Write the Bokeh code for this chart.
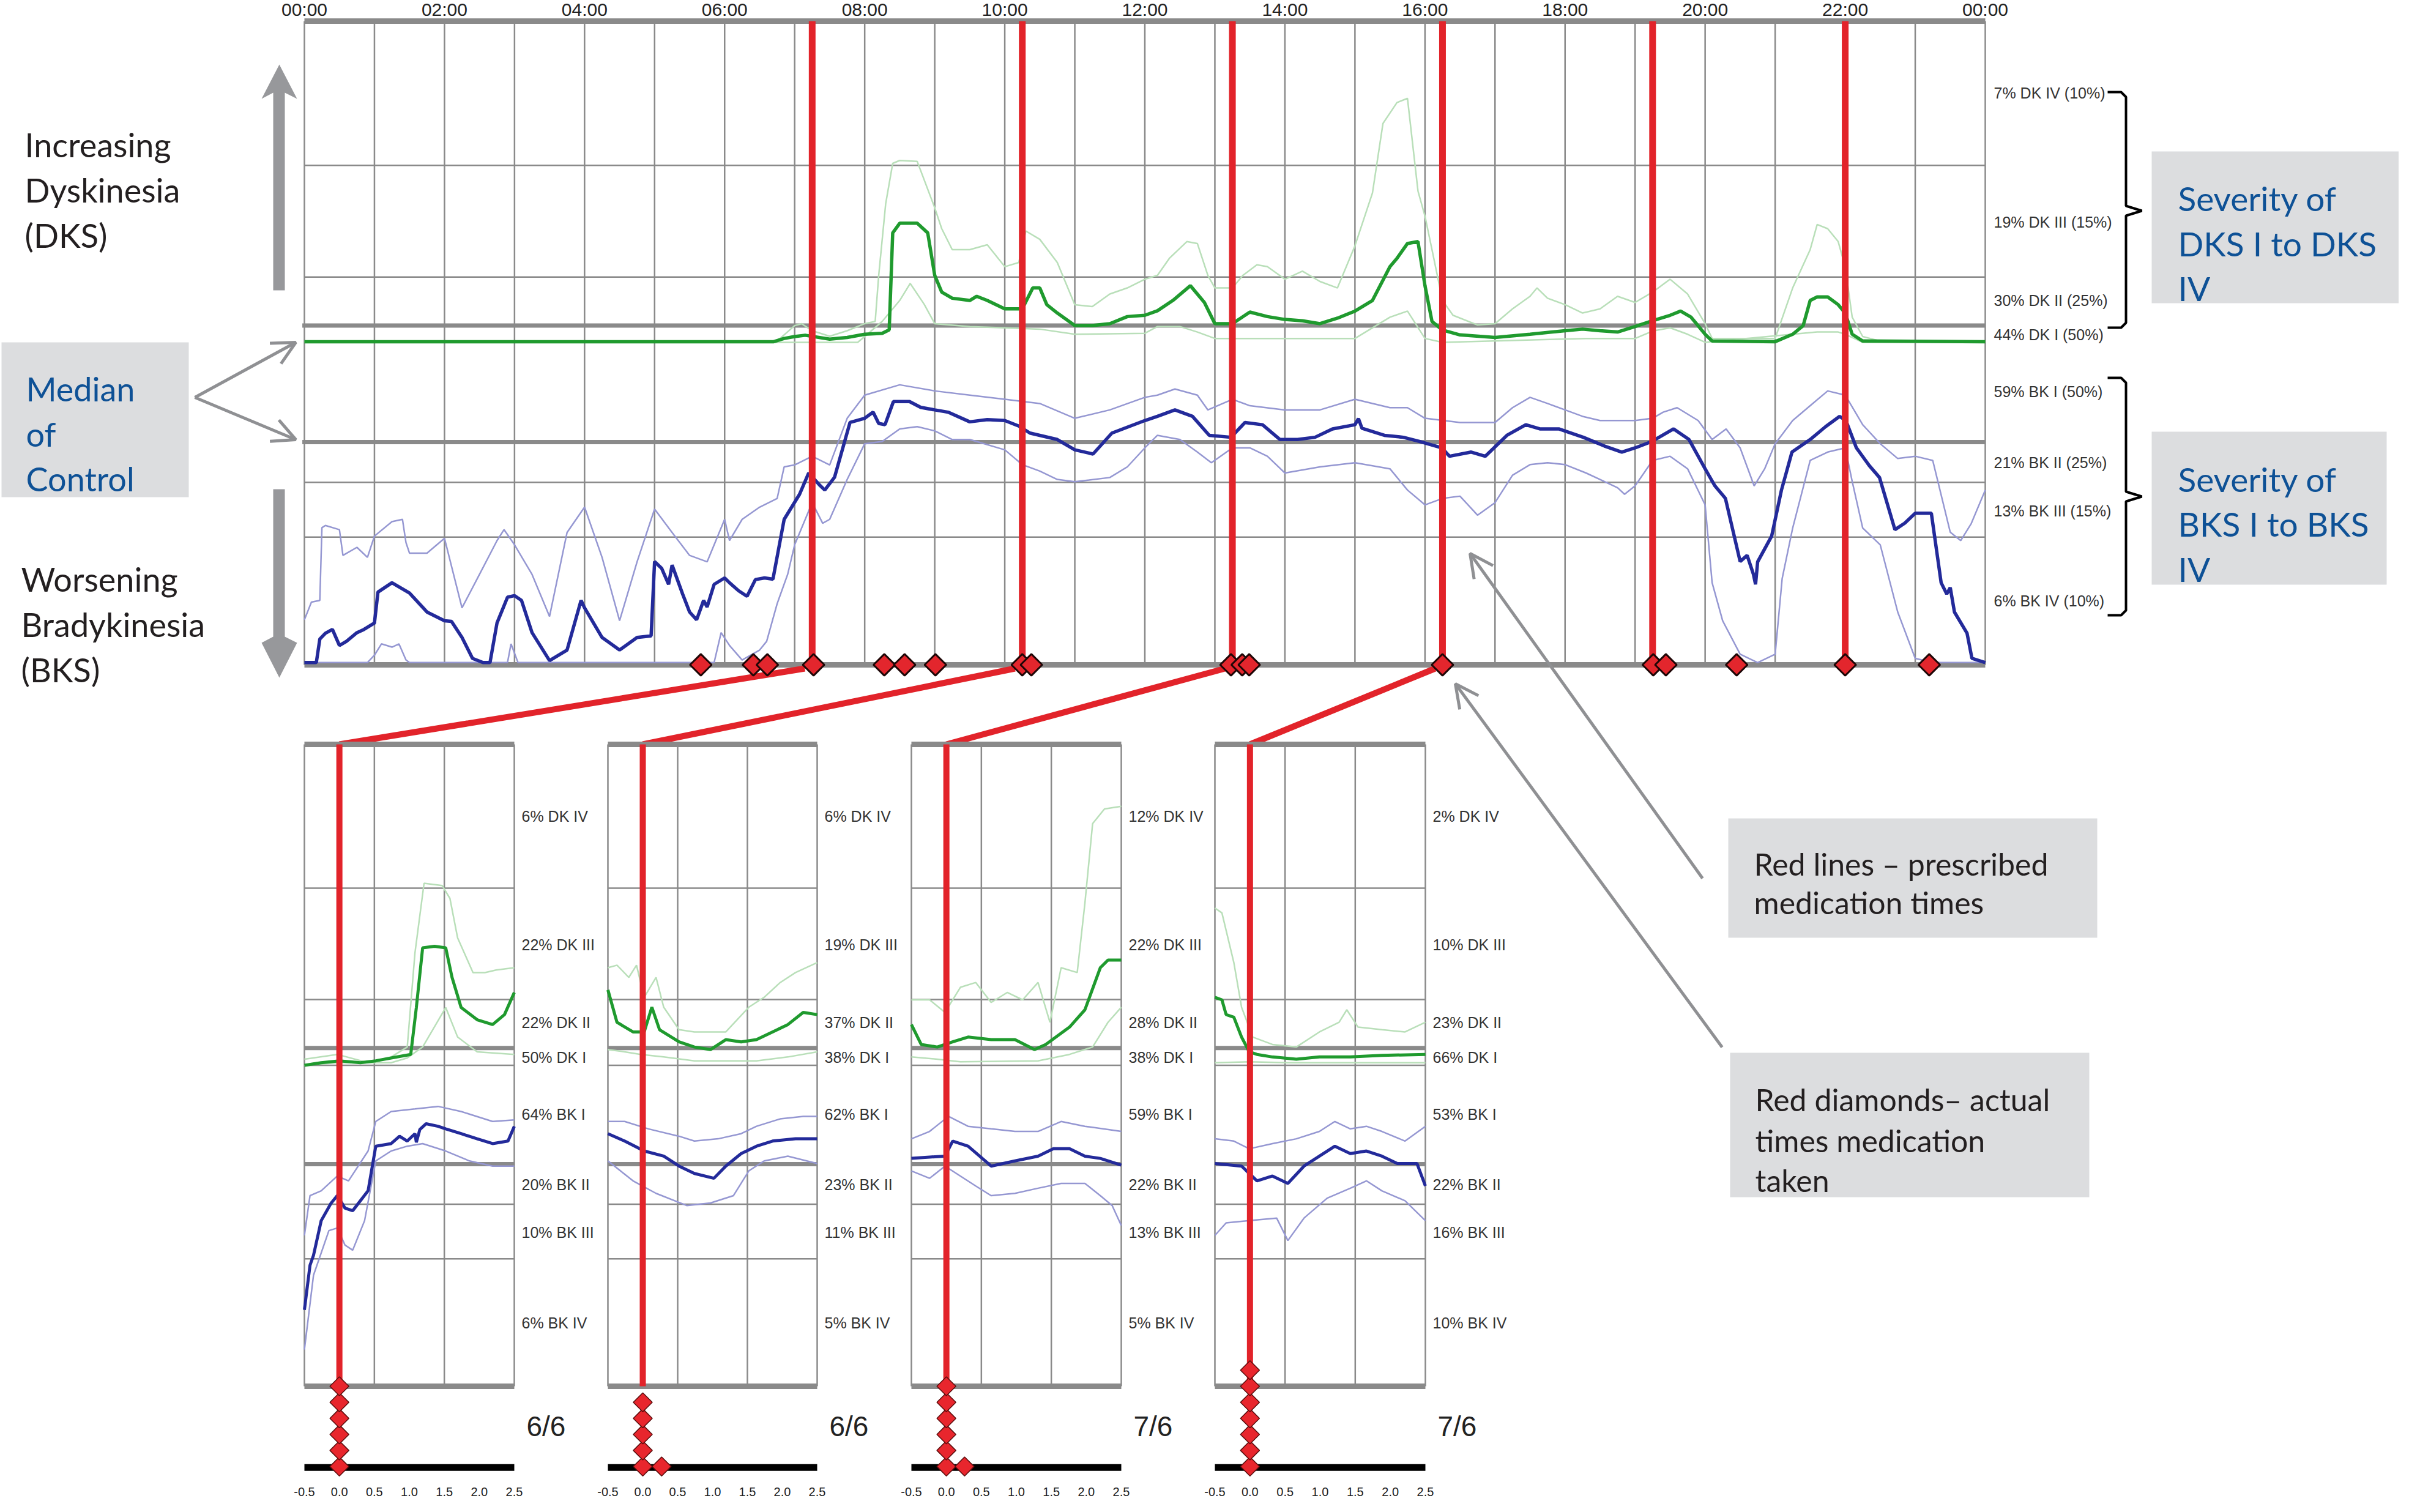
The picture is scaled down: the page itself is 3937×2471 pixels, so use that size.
from bokeh.plotting import figure
from bokeh.models import Range1d, Arrow, OpenHead
from bokeh.core.properties import value
from bokeh.embed import file_html
from bokeh.resources import INLINE

# ---------------------------------------------------------------- data
hour_ticks = [0, 2, 4, 6, 8, 10, 12, 14, 16, 18, 20, 22, 24]
hour_labels = ["00:00", "02:00", "04:00", "06:00", "08:00", "10:00", "12:00",
               "14:00", "16:00", "18:00", "20:00", "22:00", "00:00"]
grid_hours = list(range(0, 25))

# severity scale: +100 top of DKS zone, 0 = no dyskinesia, -100 = worst BKS
levels_thin = [55.2, 20.5, -43.3, -60.3]
levels_thick = [5.4, -30.8]          # medians of control (DK, BK)
label_levels = [77.6, 37.6, 13.3, 2.5, -15.2, -37.1, -52.1, -80.2]
main_labels = ["7% DK IV (10%)", "19% DK III (15%)", "30% DK II (25%)", "44% DK I (50%)",
               "59% BK I (50%)", "21% BK II (25%)", "13% BK III (15%)", "6% BK IV (10%)"]

prescribed_hours = [7.25, 10.25, 13.25, 16.25, 19.25, 22.0]
taken_hours = [5.66, 6.41, 6.61, 7.27, 8.28, 8.57, 9.01, 10.25, 10.38, 13.23, 13.39,
               13.49, 16.25, 19.26, 19.44, 20.45, 22.0, 23.2]

bk_median = [(0.0, -99.3), (0.17, -99.3), (0.22, -92), (0.3, -90.2), (0.4, -89), (0.5, -94),
             (0.6, -92.7), (0.75, -90), (0.85, -89), (1.0, -87), (1.05, -77.4), (1.25, -74.5),
             (1.5, -77.7), (1.75, -83.6), (2.0, -86.3), (2.1, -86.5), (2.25, -91.5), (2.4, -98),
             (2.55, -99.3), (2.65, -99.3), (2.75, -87), (2.9, -79), (3.0, -78.5), (3.1, -80),
             (3.25, -90), (3.5, -98.7), (3.75, -95.4), (3.95, -80), (4.0, -82.3), (4.25, -91.5),
             (4.5, -95.4), (4.75, -91.5), (4.95, -91), (5.0, -67.9), (5.1, -70), (5.2, -75),
             (5.25, -69), (5.4, -78), (5.5, -83.6), (5.6, -86), (5.7, -80), (5.75, -82),
             (5.85, -75), (6.0, -73), (6.07, -74.5), (6.2, -77), (6.32, -78.7), (6.44, -73.5),
             (6.57, -73), (6.69, -73.4), (6.85, -54.8), (7.07, -47), (7.2, -40.4), (7.35, -44),
             (7.43, -45.7), (7.57, -41.7), (7.79, -24.7), (8.0, -23.4), (8.12, -21.5),
             (8.2, -25), (8.29, -25.4), (8.41, -18.2), (8.64, -18.2), (8.8, -20), (9.0, -20.8),
             (9.19, -21.5), (9.5, -24.5), (9.75, -23.8), (10.0, -24.1), (10.2, -25.8),
             (10.36, -28), (10.75, -30), (11.0, -33.2), (11.26, -34.5), (11.53, -28),
             (12.0, -24.1), (12.18, -22.8), (12.43, -20.8), (12.68, -22.8), (12.92, -28.7),
             (13.23, -29.3), (13.43, -24.7), (13.68, -25.4), (13.93, -30), (14.18, -30),
             (14.43, -29.3), (14.68, -26.7), (15.0, -25.4), (15.05, -23.5), (15.1, -26.5),
             (15.42, -28.7), (15.69, -29.3), (15.92, -30.6), (16.24, -32.6), (16.35, -35.2),
             (16.66, -33.9), (16.86, -35.2), (17.17, -28.7), (17.44, -25.4), (17.64, -26.7),
             (17.91, -26.7), (18.26, -29.3), (18.56, -32), (18.81, -33.9), (19.0, -32.6),
             (19.24, -30.6), (19.55, -26.7), (19.77, -30), (20.0, -39.1), (20.14, -44.4),
             (20.29, -48.3), (20.5, -67.9), (20.6, -66), (20.69, -71.9), (20.72, -75),
             (20.75, -68), (20.95, -60), (21.09, -45.7), (21.24, -33.9), (21.5, -30),
             (21.72, -26), (21.92, -22.8), (22.01, -24.1), (22.16, -32.6), (22.34, -38),
             (22.49, -41.8), (22.71, -58), (22.85, -56), (23.0, -52.9), (23.23, -52.9),
             (23.37, -74.5), (23.45, -78), (23.5, -76), (23.56, -83.6), (23.74, -90.2),
             (23.81, -98), (24.0, -99.3)]
bk_upper = [(0.0, -86), (0.1, -80.5), (0.22, -80), (0.25, -57.4), (0.3, -56.7), (0.5, -58),
            (0.55, -66), (0.75, -63.5), (0.9, -66.6), (1.0, -60), (1.25, -55.5), (1.4, -54.8),
            (1.45, -62), (1.5, -65.3), (1.75, -65.3), (2.0, -60.7), (2.25, -82.3), (2.5, -71.9),
            (2.75, -61.4), (2.85, -58), (3.0, -62.7), (3.25, -71.9), (3.5, -85), (3.75, -58.9),
            (4.0, -51), (4.25, -66.6), (4.5, -86.3), (4.75, -68), (5.0, -51.6), (5.25, -58.9),
            (5.5, -66), (5.75, -68), (6.0, -54.8), (6.07, -61.4), (6.25, -54.8), (6.5, -51),
            (6.75, -48.3), (6.85, -38.5), (7.0, -37.9), (7.25, -35.2), (7.5, -37.9),
            (7.75, -23.4), (8.0, -16.2), (8.5, -13), (9.0, -14.9), (9.5, -16.2), (10.0, -17.5),
            (10.5, -18.8), (11.0, -23.4), (11.5, -20.8), (12.0, -16.9), (12.18, -16.2),
            (12.43, -14.3), (12.75, -16.2), (12.9, -20.8), (13.25, -17.5), (13.5, -19.5),
            (14.0, -20.8), (14.5, -20.8), (15.0, -17.5), (15.5, -20.1), (15.75, -20.1),
            (16.0, -23.4), (16.5, -24.7), (17.0, -24.7), (17.25, -20.1), (17.5, -16.9),
            (17.75, -18.8), (18.0, -20.8), (18.25, -22.8), (18.5, -24.1), (19.0, -24.1),
            (19.25, -23.4), (19.4, -21.5), (19.6, -20.1), (19.9, -24.1), (20.1, -30),
            (20.3, -26.7), (20.5, -32.6), (20.7, -44.4), (20.85, -39.1), (21.0, -31.3),
            (21.25, -24.1), (21.5, -19.5), (21.75, -14.9), (22.0, -16.2), (22.25, -25.4),
            (22.5, -31.3), (22.75, -35.9), (23.0, -35.2), (23.25, -36.5), (23.5, -58.8),
            (23.65, -61.4), (23.8, -56.1), (24.0, -45.7)]
bk_lower = [(0.0, -99.3), (0.9, -99.3), (1.0, -97), (1.1, -93.5), (1.25, -94.5), (1.35, -93.5),
            (1.45, -98.5), (1.5, -99.3), (2.9, -99.3), (2.95, -93.5), (3.05, -99.3),
            (5.85, -99.3), (5.95, -90), (6.07, -94), (6.25, -98.5), (6.5, -95.4), (6.6, -92.7),
            (6.75, -81), (6.9, -71.9), (7.0, -62.7), (7.25, -49.6), (7.4, -56), (7.5, -54.8),
            (7.75, -42.4), (8.0, -31.3), (8.25, -30.6), (8.5, -26.7), (8.75, -26), (9.0, -27.3),
            (9.25, -30), (9.5, -30), (10.0, -33.2), (10.25, -37.8), (10.5, -39.8),
            (10.75, -42.4), (11.0, -43.1), (11.5, -41.8), (11.75, -38.5), (12.0, -32.6),
            (12.18, -28.7), (12.5, -30), (12.75, -33.9), (12.95, -37.2), (13.25, -32.6),
            (13.5, -32.6), (13.75, -35.2), (14.0, -40.4), (14.5, -38.5), (15.0, -37.2),
            (15.5, -39.1), (15.75, -45.7), (16.0, -50.3), (16.25, -48.3), (16.5, -47.6),
            (16.75, -53.5), (17.0, -49.6), (17.25, -41.1), (17.5, -37.8), (17.75, -37.2),
            (18.0, -37.8), (18.3, -40.4), (18.5, -42.4), (18.75, -45), (18.85, -47),
            (19.0, -44.4), (19.25, -36.5), (19.5, -35.2), (19.75, -39.1), (20.0, -50.3),
            (20.1, -74.5), (20.25, -86.3), (20.5, -96.7), (20.75, -99.3), (21.0, -96.7),
            (21.1, -73.2), (21.25, -57.5), (21.5, -36.5), (21.75, -33.9), (22.0, -32.6),
            (22.1, -43), (22.25, -57.5), (22.5, -62.7), (22.75, -83.6), (23.0, -98),
            (23.25, -99.3), (24.0, -99.3)]
dk_median = [(0.0, 0.4), (6.7, 0.4), (6.85, 1.4), (7.0, 2.0), (7.15, 2.4), (7.5, 1.2),
             (7.75, 1.7), (8.0, 2.7), (8.25, 3.0), (8.35, 4.1), (8.4, 34.2), (8.5, 37.2),
             (8.75, 37.2), (8.9, 34.2), (9.0, 21), (9.1, 15.8), (9.25, 13.9), (9.5, 13.2),
             (9.6, 14.5), (9.75, 13.2), (10.0, 10.6), (10.25, 10.6), (10.4, 17.1), (10.5, 17.1),
             (10.6, 11.9), (10.75, 9.3), (11.0, 5.4), (11.25, 5.4), (11.5, 6.0), (11.75, 8.2),
             (12.0, 8.6), (12.18, 10), (12.4, 13.2), (12.65, 17.8), (12.85, 12.6), (13.0, 6),
             (13.25, 6), (13.5, 9.6), (13.75, 8.2), (14.0, 7.3), (14.25, 6.9), (14.5, 6),
             (14.75, 7.7), (15.0, 9.9), (15.25, 13.2), (15.5, 23.7), (15.6, 26.3), (15.75, 30.9),
             (15.9, 31.5), (16.0, 17.8), (16.1, 6.7), (16.25, 4), (16.5, 2.5), (17.0, 1.7),
             (17.5, 2.7), (18.0, 3.8), (18.25, 4.3), (18.5, 3.8), (18.75, 3.4), (19.0, 5.1),
             (19.25, 6.9), (19.5, 8.6), (19.65, 9.9), (19.8, 8), (20.0, 2.7), (20.1, 0.6),
             (21.0, 0.4), (21.25, 2.7), (21.4, 5.4), (21.5, 13.2), (21.6, 14.3), (21.75, 14.3),
             (21.9, 11.9), (22.0, 9.3), (22.1, 2.7), (22.25, 0.6), (24.0, 0.4)]
dk_upper = [(0.0, 0.6), (6.75, 0.6), (7.0, 5.4), (7.1, 6), (7.25, 3.8), (7.5, 2.1), (7.75, 3.8),
            (8.0, 6), (8.15, 6.7), (8.2, 21), (8.3, 43.3), (8.4, 55.8), (8.5, 56.7),
            (8.75, 56.4), (9.0, 42), (9.1, 35.5), (9.25, 29), (9.5, 29), (9.75, 30.5),
            (10.0, 23.7), (10.2, 25), (10.3, 34.8), (10.5, 32.2), (10.75, 25), (11.0, 11.9),
            (11.25, 11.3), (11.5, 15.2), (11.75, 17.1), (12.0, 19.8), (12.18, 21),
            (12.35, 26.3), (12.6, 31.5), (12.75, 30.9), (12.9, 21), (13.0, 17.1), (13.25, 17.1),
            (13.4, 21), (13.6, 24.3), (13.75, 23.7), (14.0, 19.8), (14.25, 22.3), (14.5, 19.1),
            (14.75, 17.1), (15.0, 30.2), (15.25, 46.6), (15.4, 68.2), (15.6, 74.7),
            (15.75, 76), (15.9, 47.2), (16.0, 39.4), (16.1, 29), (16.25, 13.2), (16.4, 8.6),
            (16.75, 5.6), (17.0, 6), (17.25, 10.6), (17.5, 14.5), (17.6, 17.1), (17.75, 13.9),
            (18.0, 11.9), (18.25, 9.3), (18.5, 10.6), (18.75, 14.5), (19.0, 12.6),
            (19.25, 15.8), (19.5, 19.8), (19.75, 15.2), (20.0, 6), (20.1, 1.4), (21.0, 1.4),
            (21.25, 17.1), (21.5, 29), (21.6, 36.8), (21.75, 35.5), (21.9, 31.5), (22.0, 23.7),
            (22.1, 8), (22.25, 2), (22.5, 0.6), (24.0, 0.6)]
dk_lower = [(0.0, 0.2), (7.9, 0.2), (8.0, 2), (8.25, 6.7), (8.5, 13.2), (8.65, 18.5),
            (8.85, 12), (9.0, 6), (9.5, 5.1), (10.0, 4.7), (10.5, 4.3), (11.0, 2.7), (12.0, 3),
            (12.18, 5.1), (12.5, 5.1), (12.75, 3.4), (13.0, 1.4), (15.0, 1.4), (15.5, 8),
            (15.75, 9.9), (16.0, 1.4), (16.25, 0.2), (18.3, 1.4), (19.0, 1.4), (19.25, 3.7),
            (19.5, 4.7), (19.75, 2.7), (20.0, 0.2), (21.6, 3.4), (21.9, 3.4), (22.0, 2.7),
            (22.25, 0.2), (24.0, 0.2)]

# ---- zoomed panels: hours relative to the prescribed dose (-0.5 .. 2.5)
panel_dates = ["6/6", "6/6", "7/6", "7/6"]
panel_dose_hours = [7.25, 10.25, 13.25, 16.25]
panel_ticks = [-0.5, 0.0, 0.5, 1.0, 1.5, 2.0, 2.5]
panel_tick_labels = ["-0.5", "0.0", "0.5", "1.0", "1.5", "2.0", "2.5"]
panel_labels = [
    ["6% DK IV", "22% DK III", "22% DK II", "50% DK I", "64% BK I", "20% BK II", "10% BK III", "6% BK IV"],
    ["6% DK IV", "19% DK III", "37% DK II", "38% DK I", "62% BK I", "23% BK II", "11% BK III", "5% BK IV"],
    ["12% DK IV", "22% DK III", "28% DK II", "38% DK I", "59% BK I", "22% BK II", "13% BK III", "5% BK IV"],
    ["2% DK IV", "10% DK III", "23% DK II", "66% DK I", "53% BK I", "22% BK II", "16% BK III", "10% BK IV"],
]
# actual doses: (relative hour, day row)
p1_doses = [(0, 0), (0, 1), (0, 2), (0, 3), (0, 4), (0, 5)]
p2_doses = [(0, 0), (0, 1), (0, 2), (0, 3), (0, 4), (0.27, 0)]
p3_doses = [(0, 0), (0, 1), (0, 2), (0, 3), (0, 4), (0, 5), (0.26, 0)]
p4_doses = [(0, 0), (0, 1), (0, 2), (0, 3), (0, 4), (0, 5), (0, 6)]

p1_dk_med = [(-0.5, 0), (-0.26, 0.8), (0.0, 1.4), (0.3, 0.8), (0.52, 1.4), (0.74, 2.3), (1.02, 3.4),
             (1.1, 18), (1.19, 36.6), (1.36, 37.1), (1.52, 36.6), (1.61, 27.4), (1.74, 18),
             (1.97, 14.2), (2.19, 12.7), (2.36, 15.8), (2.5, 22.7)]
p1_dk_up = [(-0.5, 1.9), (-0.03, 3.4), (0.41, 0.8), (0.74, 2.6), (0.97, 5.7), (1.08, 35),
            (1.21, 56.7), (1.47, 56), (1.58, 52), (1.69, 39.7), (1.91, 28.9), (2.08, 28.9),
            (2.24, 29.7), (2.5, 30.4)]
p1_dk_lo = [(-0.5, 0), (-0.03, 0.8), (0.74, 0.8), (0.97, 2.3), (1.19, 5.7), (1.52, 18),
            (1.69, 8.8), (1.97, 4.2), (2.5, 3.4)]
p1_bk_med = [(-0.5, -76.2), (-0.42, -62.3), (-0.37, -59.2), (-0.26, -48.4), (-0.12, -43),
             (-0.03, -40.6), (0.08, -44.5), (0.19, -45.3), (0.41, -39.1), (0.52, -25.2),
             (0.74, -24.4), (0.86, -22.1), (0.97, -23.6), (1.08, -21.3), (1.1, -24), (1.15, -20),
             (1.24, -18.2), (1.41, -19), (1.52, -19.8), (1.74, -21.3), (1.97, -22.9),
             (2.19, -24.4), (2.41, -23.6), (2.5, -19)]
p1_bk_up = [(-0.5, -53), (-0.42, -40.6), (-0.26, -39.1), (-0.03, -34.5), (0.13, -36),
            (0.41, -26.7), (0.52, -17.5), (0.74, -14.4), (1.08, -13.6), (1.41, -12.8),
            (1.74, -14.4), (2.19, -17.5), (2.5, -17)]
p1_bk_lo = [(-0.5, -88.6), (-0.37, -65.4), (-0.15, -51.5), (-0.03, -50.7), (0.08, -56),
            (0.19, -57.6), (0.36, -48.4), (0.52, -29.8), (0.74, -26.7), (0.97, -25.2),
            (1.19, -24.4), (1.52, -26.7), (1.86, -29.8), (2.19, -31.4), (2.5, -31.4)]

p2_dk_med = [(-0.5, 23.5), (-0.37, 13.4), (-0.14, 10.4), (0.02, 10.4), (0.13, 18.1), (0.24, 11.1),
             (0.52, 7.3), (0.74, 5.7), (0.97, 4.9), (1.19, 8), (1.41, 7.3), (1.63, 8),
             (1.86, 10.4), (2.08, 12.7), (2.3, 16.5), (2.5, 15.8)]
p2_dk_up = [(-0.5, 30.4), (-0.37, 31.2), (-0.2, 27.4), (-0.09, 31.2), (0.02, 21.2), (0.19, 27.4),
            (0.3, 18.1), (0.52, 11.1), (0.74, 10.4), (1.19, 10.4), (1.52, 18.1), (1.74, 21.2),
            (1.97, 25.8), (2.19, 28.9), (2.5, 32)]
p2_dk_lo = [(-0.5, 4.9), (-0.26, 4.2), (-0.03, 3.4), (0.3, 2.6), (0.74, 1.4), (1.63, 1.4),
            (2.08, 2.6), (2.5, 4.2)]
p2_bk_med = [(-0.5, -21.3), (-0.26, -23.6), (0.02, -26.7), (0.3, -28.3), (0.52, -31.4),
             (0.74, -33.7), (1.02, -35.2), (1.19, -31.4), (1.41, -27.5), (1.63, -25.2),
             (1.86, -23.6), (2.19, -22.9), (2.5, -22.9)]
p2_bk_up = [(-0.5, -17.5), (-0.26, -17.5), (0.08, -19.8), (0.52, -22.1), (0.74, -23.6),
            (1.08, -22.9), (1.41, -21.3), (1.63, -19), (1.97, -16.7), (2.3, -15.9), (2.5, -15.9)]
p2_bk_lo = [(-0.5, -29.8), (-0.14, -36), (0.19, -39.9), (0.63, -43.7), (0.97, -42.9),
            (1.3, -40.6), (1.52, -32.9), (1.74, -29.8), (2.08, -28.3), (2.5, -30.6)]

p3_dk_med = [(-0.5, 12.7), (-0.36, 6.5), (-0.13, 5.7), (0.09, 7.3), (0.31, 8.8), (0.64, 8),
             (0.98, 8), (1.26, 4.9), (1.42, 6.5), (1.76, 11.9), (1.98, 17.3), (2.2, 30.4),
             (2.31, 32.8), (2.5, 32.8)]
p3_dk_up = [(-0.5, 20.4), (-0.24, 20.4), (-0.02, 16.5), (0.2, 24.3), (0.42, 25.8), (0.64, 19.6),
            (0.87, 22.7), (1.09, 20.4), (1.31, 25.8), (1.48, 13.4), (1.64, 30.4), (1.87, 28.9),
            (1.98, 50.5), (2.09, 75.3), (2.26, 79.9), (2.5, 80.7)]
p3_dk_lo = [(-0.5, 2.6), (-0.13, 1.9), (0.2, 1.1), (1.31, 1.4), (1.76, 3.4), (2.09, 5.7),
            (2.31, 13.4), (2.5, 18.1)]
p3_bk_med = [(-0.5, -29), (-0.24, -28.6), (-0.02, -28.3), (0.09, -23.6), (0.31, -25.2),
             (0.64, -31.4), (0.98, -29.8), (1.31, -28.3), (1.53, -26), (1.76, -26),
             (1.98, -28.3), (2.2, -29), (2.5, -31.1)]
p3_bk_up = [(-0.5, -22.9), (-0.24, -20.6), (0.03, -15.9), (0.31, -19), (0.64, -19.8),
            (0.98, -20.6), (1.31, -20.6), (1.64, -17.5), (1.98, -19), (2.5, -20.6)]
p3_bk_lo = [(-0.5, -32.9), (-0.24, -35.2), (-0.02, -31.4), (0.2, -34.5), (0.42, -37.6),
            (0.64, -40.6), (0.98, -39.9), (1.31, -38.3), (1.64, -36.8), (1.98, -36.8),
            (2.2, -40.6), (2.37, -43.7), (2.5, -49.9)]

p4_dk_med = [(-0.5, 21.2), (-0.4, 20.4), (-0.34, 15.8), (-0.23, 15), (-0.12, 8.8), (-0.01, 4.2),
             (0.1, 3.4), (0.32, 2.6), (0.66, 1.9), (0.99, 2.6), (1.43, 2.6), (1.88, 3.1),
             (2.5, 3.4)]
p4_dk_up = [(-0.5, 49), (-0.4, 47.5), (-0.23, 32), (-0.12, 18.1), (0.04, 8.8), (0.32, 6.5),
            (0.66, 5.7), (0.99, 10.4), (1.27, 13.4), (1.38, 17.3), (1.54, 11.9), (1.88, 11.1),
            (2.21, 10.4), (2.5, 13.4)]
p4_dk_lo = [(-0.5, 0.8), (-0.01, 1.1), (0.54, 0.8), (2.5, 0.8)]
p4_bk_med = [(-0.5, -30.6), (-0.12, -31.4), (0.1, -36), (0.32, -34.5), (0.54, -36.8),
             (0.77, -31.4), (0.99, -28.3), (1.21, -25.2), (1.43, -27.5), (1.66, -26.7),
             (1.88, -28.3), (2.1, -30.6), (2.38, -30.6), (2.5, -37.6)]
p4_bk_up = [(-0.5, -22.9), (-0.23, -23.6), (-0.01, -26), (0.32, -24.4), (0.66, -22.9),
            (0.99, -20.6), (1.21, -17.5), (1.43, -19.8), (1.66, -19), (1.88, -20.6),
            (2.21, -23.6), (2.5, -19)]
p4_bk_lo = [(-0.5, -53), (-0.34, -49.1), (-0.01, -48.4), (0.38, -47.6), (0.54, -54.6),
            (0.77, -47.6), (1.1, -41.4), (1.43, -38.3), (1.66, -36), (1.88, -39.1),
            (2.21, -42.2), (2.5, -48.4)]

panel_series = [
    (p1_dk_med, p1_dk_up, p1_dk_lo, p1_bk_med, p1_bk_up, p1_bk_lo, p1_doses),
    (p2_dk_med, p2_dk_up, p2_dk_lo, p2_bk_med, p2_bk_up, p2_bk_lo, p2_doses),
    (p3_dk_med, p3_dk_up, p3_dk_lo, p3_bk_med, p3_bk_up, p3_bk_lo, p3_doses),
    (p4_dk_med, p4_dk_up, p4_dk_lo, p4_bk_med, p4_bk_up, p4_bk_lo, p4_doses),
]

# ---------------------------------------------------------------- layout / style
W, H = 3920, 2454
OFF = 8
MAIN_X = (505, 3252)      # page px of 00:00 and 24:00
MAIN_Y = (42, 1094)       # page px of +100 and -100
PANEL_X = [(505, 848), (1001, 1343), (1497, 1840), (1993, 2337)]
PANEL_Y = (1224, 2273)

GREEN = "#1f9a2e"
GREEN_LIGHT = "#b9dfb9"
BLUE = "#232a9a"
BLUE_LIGHT = "#9597d2"
RED = "#e2232a"
GRID = "#8a8a8a"
BOXFILL = "#dcdddf"
TXTBLUE = "#0e5196"
NARROW = value("Liberation Sans")
SANS = value("Lato")


def frame_range(a_px, b_px, va, vb, size):
    scale = (b_px - a_px) / (vb - va)
    return va + (OFF - a_px) / scale, va + (OFF + size - a_px) / scale


def main_page(h, v):
    return (MAIN_X[0] + h * (MAIN_X[1] - MAIN_X[0]) / 24.0,
            MAIN_Y[0] + (100 - v) * (MAIN_Y[1] - MAIN_Y[0]) / 200.0)


def panel_page(i, t, v):
    l, r = PANEL_X[i]
    return (l + (t + 0.5) * (r - l) / 3.0,
            PANEL_Y[0] + (100 - v) * (PANEL_Y[1] - PANEL_Y[0]) / 200.0)


p = figure(width=W, height=H, x_range=Range1d(OFF, OFF + W), y_range=Range1d(OFF + H, OFF),
           output_backend="svg", toolbar_location=None, x_axis_location=None,
           y_axis_location=None, min_border=0, outline_line_color=None,
           background_fill_color="white", border_fill_color="white")
p.grid.visible = False

x0, x1 = frame_range(MAIN_X[0], MAIN_X[1], 0, 24, W)
yt, yb = frame_range(MAIN_Y[0], MAIN_Y[1], 100, -100, H)
p.extra_x_ranges["mx"] = Range1d(x0, x1)
p.extra_y_ranges["my"] = Range1d(yb, yt)
yt, yb = frame_range(PANEL_Y[0], PANEL_Y[1], 100, -100, H)
p.extra_y_ranges["py"] = Range1d(yb, yt)
for i, (l, r) in enumerate(PANEL_X):
    a, b = frame_range(l, r, -0.5, 2.5, W)
    p.extra_x_ranges["px%d" % i] = Range1d(a, b)

M = dict(x_range_name="mx", y_range_name="my")


def xs(series):
    return [s[0] for s in series]


def ys(series):
    return [s[1] for s in series]


# ---------------- main chart
p.segment(x0=grid_hours, y0=-100, x1=grid_hours, y1=100, line_color=GRID, line_width=2.5, **M)
p.segment(x0=0, y0=levels_thin, x1=24, y1=levels_thin, line_color=GRID, line_width=2.5, **M)
p.segment(x0=-0.03, y0=levels_thick, x1=24, y1=levels_thick, line_color=GRID, line_width=7, **M)
p.segment(x0=0, y0=[100, -100], x1=24, y1=[100, -100], line_color=GRID, line_width=9, **M)

p.line(xs(dk_upper), ys(dk_upper), line_color=GREEN_LIGHT, line_width=2.5, **M)
p.line(xs(dk_lower), ys(dk_lower), line_color=GREEN_LIGHT, line_width=2.5, **M)
p.line(xs(bk_upper), ys(bk_upper), line_color=BLUE_LIGHT, line_width=2.5, **M)
p.line(xs(bk_lower), ys(bk_lower), line_color=BLUE_LIGHT, line_width=2.5, **M)
p.line(xs(dk_median), ys(dk_median), line_color=GREEN, line_width=5.5, **M)
p.line(xs(bk_median), ys(bk_median), line_color=BLUE, line_width=5.5, **M)

p.segment(x0=prescribed_hours, y0=-100, x1=prescribed_hours, y1=100, line_color=RED,
          line_width=11, **M)

# connectors from the main chart to the zoomed panels
for i, h in enumerate(panel_dose_hours):
    ax, ay = main_page(h, -100)
    bx, by = panel_page(i, 0.0, 100)
    p.line([ax - 12, bx], [ay + 6, by], line_color=RED, line_width=10)

p.scatter(taken_hours, [-100] * len(taken_hours), marker="square", angle=0.785398, size=25,
          fill_color="#e3262d", line_color="#1e0606", line_width=3, **M)

p.text(x=hour_ticks, y=103.7, text=hour_labels, text_font=NARROW, text_font_size="30px",
       text_align="center", text_baseline="middle", text_color="#222222", **M)
p.text(x=24, y=label_levels, text=main_labels, text_font=NARROW, text_font_size="25px",
       text_align="left", text_baseline="middle", text_color="#333333", x_offset=14, **M)

# ---------------- zoomed panels
for i, ser in enumerate(panel_series):
    dkm, dku, dkl, bkm, bku, bkl, doses = ser
    P = dict(x_range_name="px%d" % i, y_range_name="py")
    vt = [-0.5, 0.5, 1.5, 2.5]
    p.segment(x0=vt, y0=-100, x1=vt, y1=100, line_color=GRID, line_width=2.5, **P)
    hl = levels_thin + [0]
    p.segment(x0=-0.5, y0=hl, x1=2.5, y1=hl, line_color=GRID, line_width=2.5, **P)
    p.segment(x0=-0.5, y0=levels_thick, x1=2.5, y1=levels_thick, line_color=GRID,
              line_width=7, **P)
    p.segment(x0=-0.5, y0=[100, -100], x1=2.5, y1=[100, -100], line_color=GRID,
              line_width=9, **P)
    p.segment(x0=-0.5, y0=-125.3, x1=2.5, y1=-125.3, line_color="black", line_width=11, **P)

    p.line(xs(dku), ys(dku), line_color=GREEN_LIGHT, line_width=2.5, **P)
    p.line(xs(dkl), ys(dkl), line_color=GREEN_LIGHT, line_width=2.5, **P)
    p.line(xs(bku), ys(bku), line_color=BLUE_LIGHT, line_width=2.5, **P)
    p.line(xs(bkl), ys(bkl), line_color=BLUE_LIGHT, line_width=2.5, **P)
    p.line(xs(dkm), ys(dkm), line_color=GREEN, line_width=5, **P)
    p.line(xs(bkm), ys(bkm), line_color=BLUE, line_width=5, **P)

    p.segment(x0=0, y0=-100, x1=0, y1=100, line_color=RED, line_width=10, **P)
    p.scatter([d[0] for d in doses], [-125 + 5.0 * d[1] for d in doses], marker="square",
              angle=0.785398, size=22, fill_color="#e8262d", line_color="#5a0c0c",
              line_width=1.5, **P)

    p.text(x=2.5, y=label_levels, text=panel_labels[i], text_font=NARROW,
           text_font_size="25px", text_align="left", text_baseline="middle",
           text_color="#333333", x_offset=12, **P)
    p.text(x=2.5, y=-112.4, text=[panel_dates[i]], text_font=NARROW, text_font_size="46px",
           text_align="left", text_baseline="middle", text_color="#222222", x_offset=20, **P)
    p.text(x=panel_ticks, y=-132.8, text=panel_tick_labels, text_font=NARROW,
           text_font_size="20px", text_align="center", text_baseline="middle",
           text_color="#222222", **P)

# ---------------- annotations (page coordinates)
ARROW_GREY = "#97989b"
p.patch([454, 454, 435, 464, 493, 473, 473], [482, 159, 169, 113, 169, 159, 482],
        fill_color=ARROW_GREY, line_color=None)
p.patch([454, 454, 435, 464, 493, 473, 473], [807, 1048, 1058, 1115, 1058, 1048, 807],
        fill_color=ARROW_GREY, line_color=None)

for (sx, sy, ex, ey) in [(326, 657, 491, 567), (326, 657, 491, 726),
                         (2790, 1443, 2410, 912), (2822, 1719, 2386, 1125)]:
    p.add_layout(Arrow(end=OpenHead(size=38, line_color="#8f9093", line_width=5),
                       x_start=sx, y_start=sy, x_end=ex, y_end=ey,
                       line_color="#8f9093", line_width=5))

# brackets
p.line([3452, 3474, 3482, 3482, 3508, 3482, 3482, 3474, 3452],
       [158, 158, 166, 344, 352, 360, 535, 543, 543], line_color="black", line_width=4)
p.line([3452, 3474, 3482, 3482, 3508, 3482, 3482, 3474, 3452],
       [625, 625, 633, 811, 819, 827, 1005, 1013, 1013], line_color="black", line_width=4)

# grey boxes
p.quad(left=[10, 3524, 3524, 2832, 2835], right=[316, 3929, 3908, 3435, 3422],
       top=[567, 255, 713, 1345, 1728], bottom=[820, 503, 963, 1540, 1964],
       fill_color=BOXFILL, line_color=None)

p.text(x=48, y=[244, 318, 392], text=["Increasing", "Dyskinesia", "(DKS)"], text_font=SANS,
       text_font_size="54px", text_color="#231f20", text_baseline="alphabetic")
p.text(x=42, y=[954, 1028, 1102], text=["Worsening", "Bradykinesia", "(BKS)"], text_font=SANS,
       text_font_size="54px", text_color="#231f20", text_baseline="alphabetic")
p.text(x=50, y=[643, 717, 790], text=["Median", "of", "Control"], text_font=SANS,
       text_font_size="54px", text_color=TXTBLUE, text_baseline="alphabetic")
p.text(x=3567, y=[331, 405, 478], text=["Severity of", "DKS I to DKS", "IV"], text_font=SANS,
       text_font_size="55px", text_color=TXTBLUE, text_baseline="alphabetic")
p.text(x=3567, y=[790, 863, 937], text=["Severity of", "BKS I to BKS", "IV"], text_font=SANS,
       text_font_size="55px", text_color=TXTBLUE, text_baseline="alphabetic")
p.text(x=2874, y=[1419, 1482], text=["Red lines \u2013 prescribed", "medication times"],
       text_font=SANS, text_font_size="50px", text_color="#231f20", text_baseline="alphabetic")
p.text(x=2876, y=[1804, 1871, 1936],
       text=["Red diamonds\u2013 actual", "times medication", "taken"],
       text_font=SANS, text_font_size="50px", text_color="#231f20", text_baseline="alphabetic")

open("out.html", "w").write(file_html(p, INLINE))
